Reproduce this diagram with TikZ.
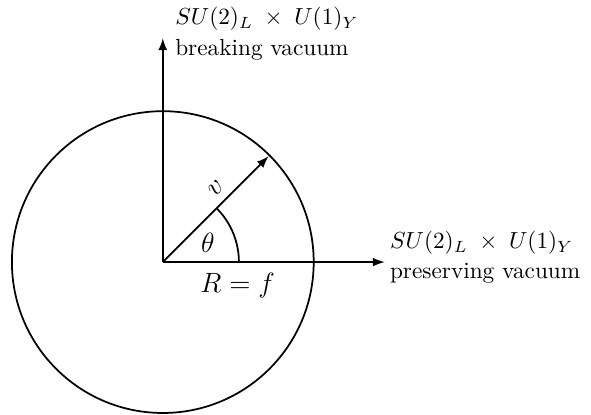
\documentclass[tikz,border=0pt]{standalone}
\usetikzlibrary{arrows}

\begin{document}
\begin{tikzpicture}[line width=0.75pt]
  \useasboundingbox (-2.46,-2.30) rectangle (6.47,3.96);
  \coordinate (O) at (0,0);
  \coordinate (ytop) at (0,3.38);
  \coordinate (xend) at (3.35,0);
  \coordinate (vtip) at (45:2.26);
  \draw (O) circle (2.28);
  \draw[-latex] (O) -- (ytop);
  \draw[-latex] (O) -- (xend);
  \draw[-latex] (O) -- (vtip)
    node[pos=0.6, above, sloped] (vlab) {\large $v$};
  \draw (1.15,0) arc (0:45:1.15);
  \node (theta) at (0.68,0.29) {\large $\theta$};
  \node (radius) at (1.13,-0.36) {\large $R=f$};
  \node[right, align=left, inner sep=2pt, xshift=3pt, yshift=2pt] (brk) at (ytop)
    {$SU(2)_L\;\times\;U(1)_Y$\\[1pt]breaking vacuum};
  \node[right, align=left, inner sep=2pt, yshift=2pt] (pres) at (xend)
    {$SU(2)_L\;\times\;U(1)_Y$\\[1pt]preserving vacuum};
\end{tikzpicture}
\end{document}
